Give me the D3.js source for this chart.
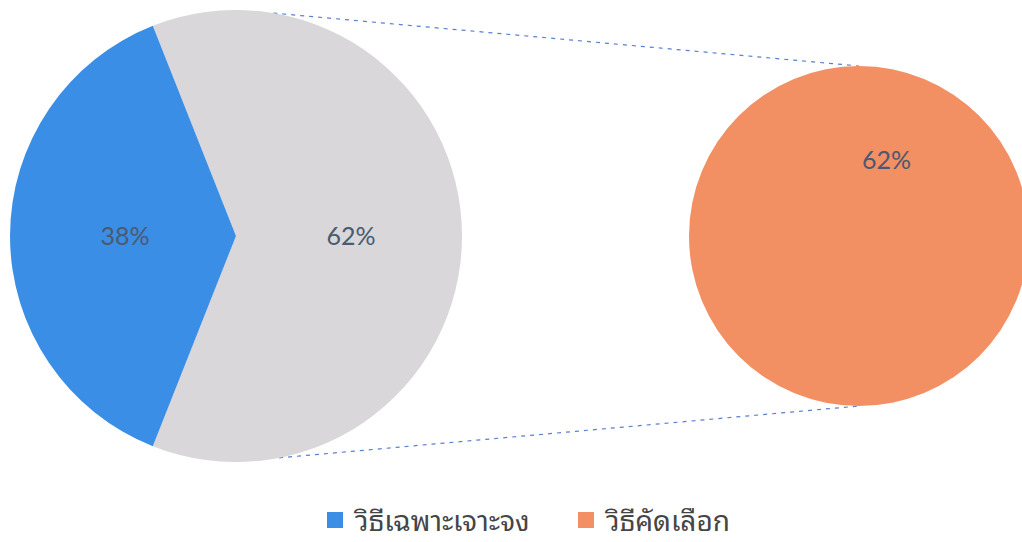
<!DOCTYPE html>
<html>
<head>
<meta charset="utf-8">
<script src="https://cdn.jsdelivr.net/npm/d3@7"></script>
<style>
  body { margin: 0; background: #fff; }
  svg { display: block; }
</style>
</head>
<body>
<svg id="chart" width="1022" height="542"></svg>
<script>
// main pie: the blue slice plus the "other" slice that is opened in the second pie
var mainNames = ["อื่นๆ", "วิธีเฉพาะเจาะจง"],
    mainValues = [62, 38],
    subNames = ["วิธีคัดเลือก"],
    subValues = [62],
    legendNames = ["วิธีเฉพาะเจาะจง", "วิธีคัดเลือก"];

var colors = {
    "อื่นๆ": "#d9d7d9",
    "วิธีเฉพาะเจาะจง": "#3b8ee6",
    "วิธีคัดเลือก": "#f28f63"
};

var svg = d3.select("#chart"),
    τ = 2 * Math.PI,
    main = { cx: 236, cy: 236, r: 226 },
    sub = { cx: 859, cy: 236, r: 170 },
    labelColor = "#4a5a70",
    labelFont = "Lato, 'Open Sans', sans-serif";

var total = d3.sum(mainValues);
var otherShare = mainValues[0] / total;

// the "other" slice faces the second pie
var mainPie = d3.pie().sort(null)
    .startAngle(τ / 4 - otherShare * τ / 2)
    .endAngle(τ / 4 - otherShare * τ / 2 + τ);

var mainArc = d3.arc().innerRadius(0).outerRadius(main.r);
var mainLabelArc = d3.arc().innerRadius(main.r * 0.5).outerRadius(main.r * 0.5);

var mainData = mainPie(mainValues);
mainData.forEach(function(d, i) { d.name = mainNames[i]; });

// dashed connectors, drawn first so the pies sit on top
var topA = 9.5 / 360 * τ,
    botA = 169 / 360 * τ;
var connectors = [
    [[main.cx + main.r * Math.sin(topA), main.cy - main.r * Math.cos(topA)], [sub.cx, sub.cy - sub.r]],
    [[main.cx + main.r * Math.sin(botA), main.cy - main.r * Math.cos(botA)], [sub.cx, sub.cy + sub.r]]
];
svg.selectAll("line.conn")
    .data(connectors)
    .enter()
    .append("line")
    .attr("class", "conn")
    .attr("x1", function(d) { return d[0][0]; })
    .attr("y1", function(d) { return d[0][1]; })
    .attr("x2", function(d) { return d[1][0]; })
    .attr("y2", function(d) { return d[1][1]; })
    .attr("stroke", "#5a7fd0")
    .attr("stroke-width", 1.2)
    .attr("stroke-dasharray", "4,5");

var gMain = svg.append("g")
    .attr("transform", "translate(" + main.cx + "," + main.cy + ")");

gMain.selectAll("path")
    .data(mainData)
    .enter()
    .append("path")
    .attr("d", mainArc)
    .attr("fill", function(d) { return colors[d.name]; });

gMain.selectAll("text")
    .data(mainData)
    .enter()
    .append("text")
    .attr("transform", function(d) {
        var c = mainLabelArc.centroid(d);
        return "translate(" + (c[0] + 2) + "," + c[1] + ")";
    })
    .attr("text-anchor", "middle")
    .attr("dy", "0.35em")
    .attr("font-family", labelFont)
    .attr("font-size", "25px")
    .attr("fill", labelColor)
    .text(function(d) { return Math.round(d.value / total * 100) + "%"; });

// second pie, one slice filling the circle
var subPie = d3.pie().sort(null);
var subArc = d3.arc().innerRadius(0).outerRadius(sub.r);
var subData = subPie(subValues);
subData.forEach(function(d, i) { d.name = subNames[i]; });

var gSub = svg.append("g")
    .attr("transform", "translate(" + sub.cx + "," + sub.cy + ")");

gSub.selectAll("path")
    .data(subData)
    .enter()
    .append("path")
    .attr("d", subArc)
    .attr("fill", function(d) { return colors[d.name]; });

var subLabelA = 20 / 360 * τ,
    subLabelR = sub.r * 0.475;
gSub.selectAll("text")
    .data(subData)
    .enter()
    .append("text")
    .attr("x", subLabelR * Math.sin(subLabelA))
    .attr("y", -subLabelR * Math.cos(subLabelA))
    .attr("text-anchor", "middle")
    .attr("dy", "0.35em")
    .attr("font-family", labelFont)
    .attr("font-size", "25px")
    .attr("fill", labelColor)
    .text(function(d) { return d.value + "%"; });

// legend
var legendX = [327, 578];
var legend = svg.selectAll("g.legend")
    .data(legendNames)
    .enter()
    .append("g")
    .attr("class", "legend")
    .attr("transform", function(d, i) { return "translate(" + legendX[i] + ",512)"; });

legend.append("rect")
    .attr("width", 16)
    .attr("height", 16)
    .attr("fill", function(d) { return colors[d]; });

legend.append("text")
    .attr("x", 28)
    .attr("y", 8)
    .attr("dy", "0.4em")
    .attr("font-family", "'Noto Sans Thai Looped', 'Noto Sans Thai', 'Noto Sans', 'DejaVu Sans', sans-serif")
    .attr("font-size", "28px")
    .attr("fill", "#454545")
    .text(function(d) { return d; });
</script>
</body>
</html>
